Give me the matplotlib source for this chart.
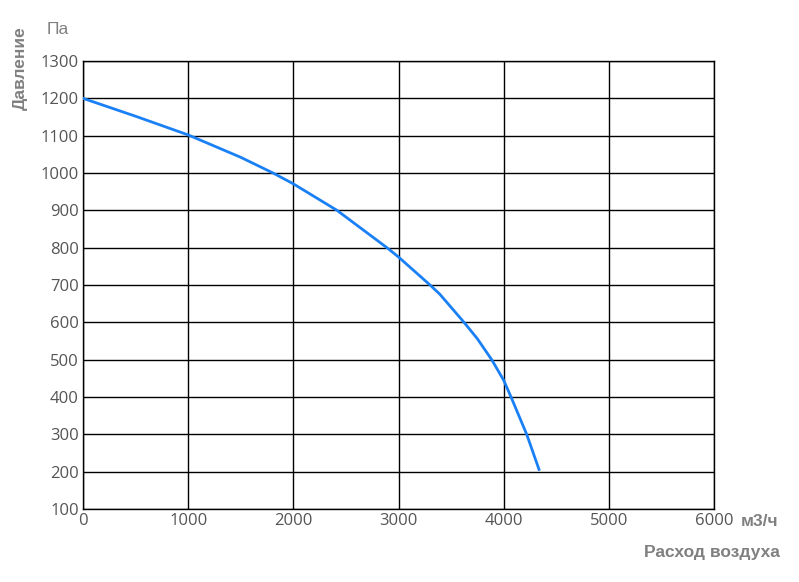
import numpy as np
import matplotlib.pyplot as plt

# кривая вентилятора
flow = [0, 500, 1000, 1500, 1807, 2000, 2415, 2890, 3000, 3300, 3394, 3623, 3750, 3886, 4000, 4070, 4219, 4336]
pressure = [1200, 1152, 1102, 1042, 1000, 971, 900, 800, 775, 700, 675, 600, 556, 500, 445, 400, 300, 206]

xticks = [0, 1000, 2000, 3000, 4000, 5000, 6000]
yticks = list(range(100, 1301, 100))

fig = plt.figure(figsize=(7.99, 5.82), dpi=100)
ax = fig.add_axes([83 / 799, 1 - 509 / 582, (714 - 83) / 799, (509 - 61) / 582])

ax.plot(flow, pressure, color='#1a80f5', lw=2, zorder=3, solid_joinstyle='round')

ax.set_xlim(0, 6000)
ax.set_ylim(100, 1300)
ax.set_xticks(xticks)
ax.set_yticks(yticks)
ax.grid(True, color='black', lw=1)
for s in ax.spines.values():
    s.set_color('black')
    s.set_linewidth(1)
ax.tick_params(length=0, labelsize=12, labelcolor='#555555', pad=3)
for lab in ax.get_xticklabels() + ax.get_yticklabels():
    lab.set_family('Open Sans')

lbl = dict(family='Liberation Sans', fontsize=12.5, color='#808080')
fig.text(20 / 799, 1 - 68 / 582, 'Давление', rotation=90, ha='center', va='center',
         fontweight='bold', **lbl)
fig.text(58 / 799, 1 - 30 / 582, 'Па', ha='center', va='center', **lbl)
fig.text(760 / 799, 1 - 522 / 582, 'м3/ч', ha='center', va='center', fontweight='bold', **lbl)
fig.text(712 / 799, 1 - 552 / 582, 'Расход воздуха', ha='center', va='center',
         fontweight='bold', **lbl)

fig.savefig('out.png', dpi=100)
